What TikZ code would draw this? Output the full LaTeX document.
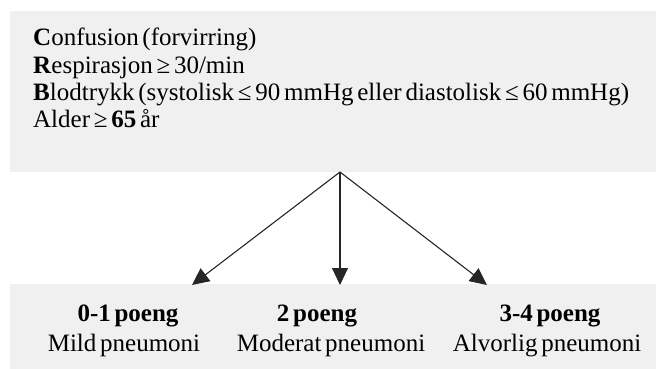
\documentclass[tikz,border=0pt]{standalone}
\usepackage{fontspec}
\setmainfont{Liberation Serif}[WordSpace=0.6]
\usetikzlibrary{arrows.meta}
\definecolor{boxgray}{HTML}{F0F0F0}
\tikzset{
  box/.style={fill=boxgray, draw=none},
  crittext/.style={anchor=base west, inner sep=0pt, font=\fontsize{25}{27}\selectfont},
  restext/.style={anchor=base, inner sep=0pt, font=\fontsize{25}{27}\selectfont},
  arr/.style={line width=1.1pt, draw=black!85, -{Triangle[length=17pt,width=16pt]}}
}
\begin{document}
\begin{tikzpicture}[x=1pt,y=-1pt]
\useasboundingbox (0,0) rectangle (656,369);
% boxes
\path[box] (10,11) rectangle (656,172);
\path[box] (10,284) rectangle (656,369);
% criteria text
\node[crittext] (l1) at (33,46) {\textbf{C}onfusion (forvirring)};
\node[crittext] (l2) at (33,73.3) {\textbf{R}espirasjon ≥ 30/min};
\node[crittext] (l3) at (33,100.6) {\textbf{B}lodtrykk (systolisk ≤ 90 mmHg eller diastolisk ≤ 60 mmHg)};
\node[crittext] (l4) at (33,127.9) {Alder ≥ \textbf{65} år};
% results
\node[restext] (r1a) at (128,321) {\textbf{0-1 poeng}};
\node[restext] (r1b) at (124,351) {Mild pneumoni};
\node[restext] (r2a) at (317,321) {\textbf{2 poeng}};
\node[restext] (r2b) at (331,351) {Moderat pneumoni};
\node[restext] (r3a) at (550,321) {\textbf{3-4 poeng}};
\node[restext] (r3b) at (547,351) {Alvorlig pneumoni};
% arrows
\coordinate (apex) at (340,172);
\coordinate (t1) at (192,285);
\coordinate (t2) at (340,285);
\coordinate (t3) at (487,285);
\draw[arr] (apex) -- (t1);
\draw[arr] (apex) -- (t2);
\draw[arr] (apex) -- (t3);
\end{tikzpicture}
\end{document}
